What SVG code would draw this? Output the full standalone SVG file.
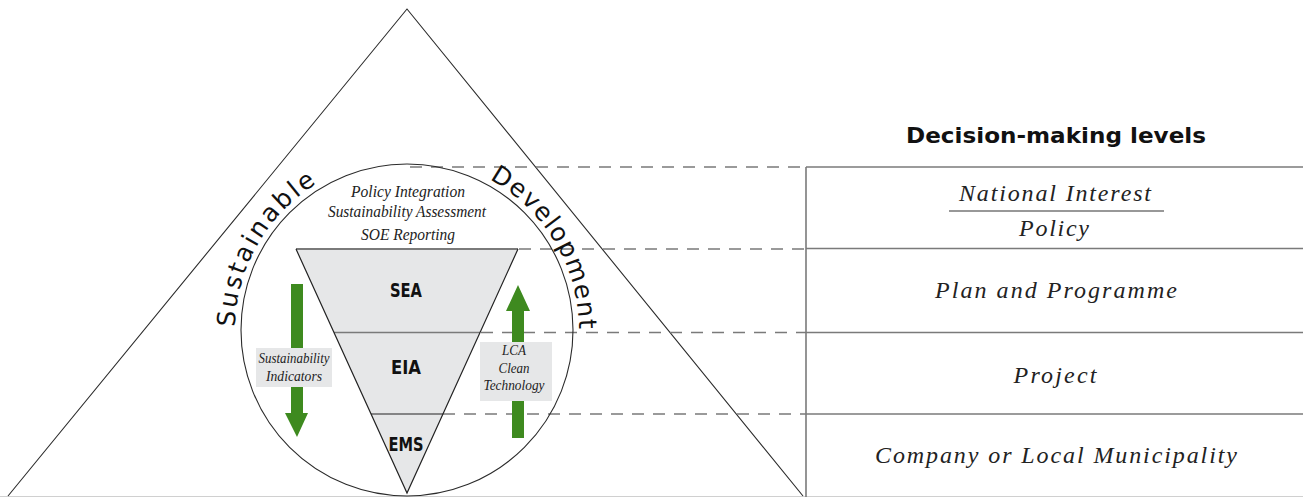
<svg xmlns="http://www.w3.org/2000/svg" width="1303" height="497" viewBox="0 0 1303 497">
<style>
.thin{fill:none;stroke:#2b2b2b;stroke-width:1.1}
.row{stroke:#7a7a7a;stroke-width:1.6;fill:none}
.dash{stroke:#7a7a7a;stroke-width:1.5;stroke-dasharray:12 9;fill:none}
.green{fill:#3e8a1f}
.lbl{fill:#e6e7e8}
.serif{font-family:"Liberation Serif","Times New Roman",serif;font-style:italic;fill:#222}
.comic{font-family:"Comic Sans MS","DejaVu Sans",sans-serif;fill:#111}
</style>
<defs>
<path id="arcPath" d="M 235.6 345 A 172 172 0 1 1 578.3 345"/>
</defs>
<rect width="1303" height="497" fill="#fff"/>
<line x1="0" y1="496.5" x2="1303" y2="496.5" stroke="#d0d0d0" stroke-width="1"/>

<g id="big-triangle">
<polyline class="thin" points="8,496 407,9 803,496"/>
</g>

<g id="connectors">
<line class="dash" x1="410" y1="167" x2="806" y2="167"/>
<line class="dash" x1="519" y1="249" x2="806" y2="249"/>
<line class="dash" x1="481" y1="332.5" x2="806" y2="332.5"/>
<line class="dash" x1="443" y1="414" x2="806" y2="414"/>
</g>

<g id="circle">
<circle cx="407" cy="330" r="166" fill="none" stroke="#2b2b2b" stroke-width="1.1"/>
</g>

<g id="arc-labels">
<text class="comic" font-size="25"><textPath href="#arcPath" startOffset="18" textLength="172" lengthAdjust="spacing">Sustainable</textPath></text>
<text class="comic" font-size="25"><textPath href="#arcPath" startOffset="371" textLength="183" lengthAdjust="spacing">Development</textPath></text>
</g>

<g id="top-labels">
<text class="serif" font-size="17" text-anchor="middle" x="408" y="197" textLength="114" lengthAdjust="spacingAndGlyphs">Policy Integration</text>
<text class="serif" font-size="17" text-anchor="middle" x="407" y="217" textLength="158" lengthAdjust="spacingAndGlyphs">Sustainability Assessment</text>
<text class="serif" font-size="17" text-anchor="middle" x="408" y="240" textLength="94" lengthAdjust="spacingAndGlyphs">SOE Reporting</text>
</g>

<g id="funnel">
<polygon points="296,249 518,249 407,493" fill="#e6e7e8"/>
<line x1="296" y1="249" x2="518" y2="249" stroke="#7a7a7a" stroke-width="2"/>
<line x1="334" y1="332.5" x2="480" y2="332.5" stroke="#7a7a7a" stroke-width="1.6"/>
<line x1="371" y1="414" x2="443" y2="414" stroke="#222" stroke-width="1.1"/>
<polyline points="296,249 407,493 518,249" fill="none" stroke="#222" stroke-width="1.2"/>
</g>

<g id="SEA"><text class="comic" font-size="19" font-weight="bold" text-anchor="middle" x="406" y="297" textLength="32" lengthAdjust="spacingAndGlyphs">SEA</text></g>
<g id="EIA"><text class="comic" font-size="19" font-weight="bold" text-anchor="middle" x="406" y="374" textLength="30" lengthAdjust="spacingAndGlyphs">EIA</text></g>
<g id="EMS"><text class="comic" font-size="19" font-weight="bold" text-anchor="middle" x="406" y="451" textLength="35" lengthAdjust="spacingAndGlyphs">EMS</text></g>

<g id="arrow-down">
<polygon class="green" points="291,284 303,284 303,413 308,413 297,437 285,413 291,413"/>
</g>
<g id="arrow-up">
<polygon class="green" points="512,438 524,438 524,311 530,311 518,285 506,311 512,311"/>
</g>

<g id="label-indicators">
<rect class="lbl" x="256" y="348" width="76" height="39"/>
<text class="serif" font-size="14" text-anchor="middle" x="294" y="363" textLength="71" lengthAdjust="spacingAndGlyphs" fill="#333">Sustainability</text>
<text class="serif" font-size="14" text-anchor="middle" x="294" y="381" textLength="56" lengthAdjust="spacingAndGlyphs" fill="#333">Indicators</text>
</g>
<g id="label-lca">
<rect class="lbl" x="480" y="342" width="72" height="59"/>
<text class="serif" font-size="14" text-anchor="middle" x="514" y="355" textLength="24" lengthAdjust="spacingAndGlyphs" fill="#333">LCA</text>
<text class="serif" font-size="14" text-anchor="middle" x="514" y="373" textLength="31" lengthAdjust="spacingAndGlyphs" fill="#333">Clean</text>
<text class="serif" font-size="14" text-anchor="middle" x="514" y="390" textLength="61" lengthAdjust="spacingAndGlyphs" fill="#333">Technology</text>
</g>

<g id="levels-table">
<line class="row" x1="806" y1="167" x2="1303" y2="167"/>
<line class="row" x1="806" y1="248.5" x2="1303" y2="248.5"/>
<line class="row" x1="806" y1="332.5" x2="1303" y2="332.5"/>
<line class="row" x1="806" y1="414" x2="1303" y2="414"/>
<line class="row" x1="806" y1="167" x2="806" y2="497"/>
</g>

<g id="title"><text class="comic" font-size="22" font-weight="bold" text-anchor="middle" x="1056" y="143" textLength="300" lengthAdjust="spacingAndGlyphs">Decision-making levels</text></g>

<g id="level-national">
<text class="serif" font-size="24" text-anchor="middle" x="1055" y="201" textLength="192" lengthAdjust="spacing">National Interest</text>
<line x1="949" y1="211" x2="1164" y2="211" stroke="#333" stroke-width="1.2"/>
<text class="serif" font-size="24" text-anchor="middle" x="1054" y="236" textLength="70" lengthAdjust="spacing">Policy</text>
</g>
<g id="level-plan"><text class="serif" font-size="24" text-anchor="middle" x="1056" y="298" textLength="242" lengthAdjust="spacing">Plan and Programme</text></g>
<g id="level-project"><text class="serif" font-size="24" text-anchor="middle" x="1055" y="383" textLength="83" lengthAdjust="spacing">Project</text></g>
<g id="level-company"><text class="serif" font-size="24" text-anchor="middle" x="1056" y="463" textLength="362" lengthAdjust="spacing">Company or Local Municipality</text></g>
</svg>
